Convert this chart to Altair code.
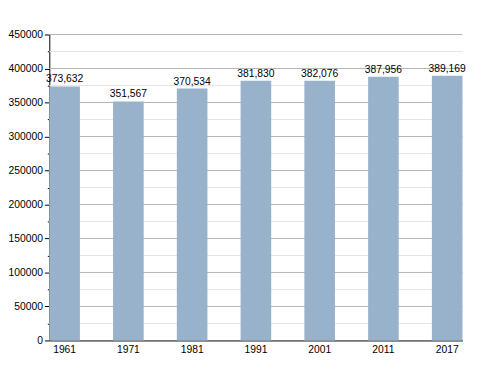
import altair as alt
import pandas as pd

years = ["1961", "1971", "1981", "1991", "2001", "2011", "2017"]
population = [373632, 351567, 370534, 381830, 382076, 387956, 389169]
major_grid = [50000, 100000, 150000, 200000, 250000, 300000, 350000, 400000, 450000]
minor_grid = [25000, 75000, 125000, 175000, 225000, 275000, 325000, 375000, 425000]

df = pd.DataFrame({"year": years, "pop": population})
ticks = sorted([0] + major_grid + minor_grid)

yscale = alt.Scale(domain=[0, 450000], nice=False)
yaxis = alt.Axis(values=ticks, format="d", grid=False, labelOverlap=False,
                 labelExpr="datum.value % 50000 === 0 ? datum.label : ''",
                 domainColor="black", tickColor="black",
                 tickSize={"condition": {"test": "datum.value % 50000 === 0", "value": 5}, "value": 2},
                 labelFont="Liberation Sans", labelFontSize=10.5,
                 labelColor="black", labelPadding=2)

x = alt.X("year:N", sort=years, title=None,
          scale=alt.Scale(paddingInner=0.52, paddingOuter=0),
          axis=alt.Axis(labelAngle=0, ticks=False, domainColor="black",
                        labelFont="Liberation Sans", labelFontSize=10.5,
                        labelColor="black", labelPadding=4, grid=False))

minor = alt.Chart(pd.DataFrame({"v": minor_grid})).mark_rule(
    color="#e4e4e4", strokeWidth=1).encode(y=alt.Y("v:Q", scale=yscale, axis=yaxis, title=None))
major = alt.Chart(pd.DataFrame({"v": major_grid})).mark_rule(
    color="#b4b4b4", strokeWidth=1).encode(y=alt.Y("v:Q", scale=yscale, axis=yaxis, title=None))

bars = alt.Chart(df).mark_bar(color="#98b2cc").encode(
    x=x, y=alt.Y("pop:Q", scale=yscale, axis=yaxis, title=None))
labels = alt.Chart(df).mark_text(baseline="bottom", dy=-2, font="Liberation Sans",
                                 fontSize=10.5, color="black").encode(
    x=alt.X("year:N", sort=years),
    y=alt.Y("pop:Q", scale=yscale, axis=yaxis, title=None),
    text=alt.Text("pop:Q", format=","))

chart = (minor + major + bars + labels).properties(
    width=420, height=311,
    autosize=alt.AutoSizeParams(type="none"),
    padding={"left": 42, "top": 24, "right": 30, "bottom": 22},
).configure_view(stroke=None)

chart.save("out.html", embed_options={"renderer": "svg", "actions": False})
